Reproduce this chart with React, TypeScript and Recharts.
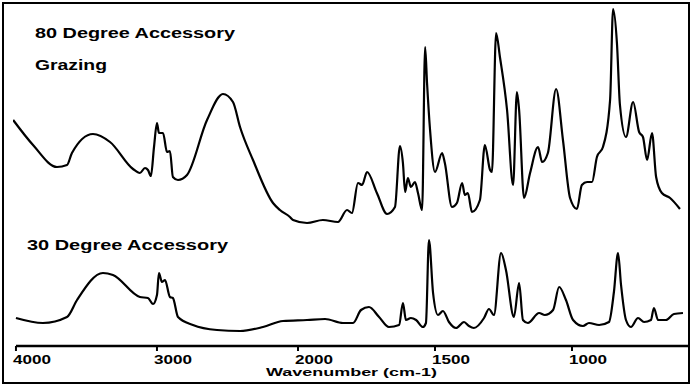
import React from 'react';
import { LineChart, Line, XAxis, YAxis, ReferenceLine } from 'recharts';

// ---- data (wavenumber in cm-1, absorbance in arbitrary units) ----
const GRAZING_WAVENUMBER = [
  4020, 3879, 3709, 3638, 3603, 3454, 3333, 3170, 3121, 3085, 3064, 3043, 3021, 3000, 2986, 2957,
  2929, 2908, 2887, 2851, 2787, 2645, 2532, 2461, 2411, 2319, 2177, 2128, 2057, 2035, 1967, 1909,
  1854, 1821, 1803, 1781, 1766, 1748, 1712, 1675, 1646, 1628, 1617, 1609, 1599, 1588, 1573, 1562,
  1547, 1536, 1529, 1518, 1500, 1474, 1464, 1438, 1420, 1401, 1391, 1380, 1365, 1336, 1318, 1299,
  1292, 1277, 1263, 1237, 1215, 1201, 1193, 1175, 1153, 1124, 1109, 1088, 1058, 1033, 1007, 982,
  964, 945, 927, 909, 887, 861, 850, 836, 825, 803, 777, 755, 741, 726, 708, 693, 672, 642, 606,
];
const GRAZING_ABSORBANCE = [
  226, 201, 179, 181, 193, 212, 204, 177, 173, 178, 176, 170, 199, 223, 213, 213,
  194, 195, 169, 166, 171, 226, 252, 244, 219, 186, 143, 136, 129, 126, 123, 126,
  124, 136, 133, 163, 161, 174, 153, 132, 139, 200, 183, 154, 168, 159, 164, 153,
  136, 299, 263, 216, 174, 193, 183, 139, 143, 163, 151, 153, 134, 146, 201, 176,
  174, 313, 289, 236, 161, 254, 236, 148, 173, 199, 184, 193, 257, 206, 148, 137,
  161, 164, 164, 189, 199, 246, 337, 303, 241, 209, 244, 214, 209, 186, 213, 169, 153, 148, 137,
];

const ACC30_WAVENUMBER = [
  4000, 3809, 3638, 3567, 3383, 3312, 3121, 3064, 3028, 3000, 2986, 2965, 2943, 2908, 2887, 2851,
  2745, 2574, 2411, 2248, 2106, 1967, 1901, 1836, 1799, 1770, 1741, 1704, 1668, 1631, 1617, 1606,
  1588, 1569, 1544, 1533, 1522, 1507, 1489, 1471, 1449, 1423, 1394, 1376, 1358, 1321, 1303, 1285,
  1259, 1241, 1212, 1193, 1179, 1161, 1120, 1099, 1069, 1047, 1022, 996, 960, 938, 901, 865,
  847, 832, 821, 803, 785, 759, 737, 712, 701, 686, 657, 628, 595,
];
const ACC30_ABSORBANCE = [
  28, 23, 29, 46, 73, 71, 49, 48, 42, 51, 73, 64, 66, 49, 48, 29,
  21, 16, 15, 19, 25, 26, 27, 23, 23, 36, 39, 29, 19, 21, 43, 26,
  28, 26, 19, 23, 106, 53, 31, 35, 24, 18, 24, 20, 18, 28, 37, 31,
  93, 76, 29, 63, 26, 23, 33, 31, 36, 59, 46, 26, 20, 23, 21, 24,
  54, 93, 61, 26, 19, 28, 24, 26, 38, 26, 26, 32, 33,
];

const TICK_WAVENUMBERS = [4000, 3000, 2000, 1500, 1000];
const X_LEFT = 4021;
const X_RIGHT = 573;
const Y_MAX = 343;

const TITLE_TOP = '80 Degree Accessory';
const TITLE_TOP_2 = 'Grazing';
const TITLE_BOTTOM = '30 Degree Accessory';
const X_TITLE = 'Wavenumber (cm-1)';

// ---- axis with a scale change at 2000 cm-1 ----
const BREAK = 2000;
const EXPAND = 1.9433;
const pos = (w: number) => (w >= BREAK ? 4000 - w : 4000 - BREAK + (BREAK - w) * EXPAND);
const inv = (u: number) => (u <= 4000 - BREAK ? 4000 - u : BREAK - (u - (4000 - BREAK)) / EXPAND);

const grazingData = GRAZING_WAVENUMBER.map((w, i) => ({ u: pos(w), a: GRAZING_ABSORBANCE[i] }));
const acc30Data = ACC30_WAVENUMBER.map((w, i) => ({ u: pos(w), a: ACC30_ABSORBANCE[i] }));

const FONT = '"Liberation Sans", Arial, Helvetica, sans-serif';
const CHART_H = 388;
const AXIS_H = 42;
const AXIS_Y = CHART_H - AXIS_H; // 346

const Tick = (props: any) => {
  const { x, payload } = props;
  const label = String(Math.round(inv(payload.value)));
  return (
    <text
      x={x - 3}
      y={AXIS_Y + 18}
      fontFamily={FONT}
      fontWeight="bold"
      fontSize={12}
      textLength={38}
      lengthAdjust="spacingAndGlyphs"
      fill="#000"
    >
      {label}
    </text>
  );
};

const AxisTitle = () => (
  <text
    x={266}
    y={AXIS_Y + 30}
    fontFamily={FONT}
    fontWeight="bold"
    fontSize={10.5}
    textLength={171}
    lengthAdjust="spacingAndGlyphs"
    fill="#000"
  >
    {X_TITLE}
  </text>
);

const titleStyle = {
  fontFamily: FONT,
  fontWeight: 'bold' as const,
  fontSize: 14,
  fill: '#000',
};

export default function App() {
  return (
    <div style={{ position: 'absolute', left: 0, top: 0, width: 692, height: 388, background: '#fff' }}>
      <div
        style={{
          position: 'absolute',
          left: 2,
          top: 2,
          width: 688,
          height: 382,
          boxSizing: 'border-box',
          border: '2px solid #000',
        }}
      />
      <div style={{ position: 'absolute', left: 0, top: 0 }}>
        <LineChart width={692} height={CHART_H} margin={{ top: 3, right: 3, bottom: 0, left: 13 }}>
          <XAxis
            dataKey="u"
            type="number"
            domain={[pos(X_LEFT), pos(X_RIGHT)]}
            allowDataOverflow
            ticks={TICK_WAVENUMBERS.map(pos)}
            tick={<Tick />}
            tickSize={5}
            tickLine={{ stroke: '#000', strokeWidth: 2 }}
            axisLine={false}
            height={AXIS_H}
            interval={0}
            label={<AxisTitle />}
          />
          <YAxis type="number" domain={[0, Y_MAX]} hide width={0} allowDataOverflow />
          <ReferenceLine
            segment={[
              { x: pos(4000), y: 0 },
              { x: pos(X_RIGHT), y: 0 },
            ]}
            stroke="#000"
            strokeWidth={2.5}
            ifOverflow="visible"
          />
          <Line
            data={grazingData}
            dataKey="a"
            type="monotone"
            stroke="#000"
            strokeWidth={2.2}
            dot={false}
            isAnimationActive={false}
          />
          <Line
            data={acc30Data}
            dataKey="a"
            type="monotone"
            stroke="#000"
            strokeWidth={2.2}
            dot={false}
            isAnimationActive={false}
          />
        </LineChart>
      </div>
      <svg width={692} height={388} style={{ position: 'absolute', left: 0, top: 0, pointerEvents: 'none' }}>
        <text x={35} y={38} textLength={200} lengthAdjust="spacingAndGlyphs" {...titleStyle}>
          {TITLE_TOP}
        </text>
        <text x={35} y={70} textLength={72} lengthAdjust="spacingAndGlyphs" {...titleStyle}>
          {TITLE_TOP_2}
        </text>
        <text x={27} y={250} textLength={201} lengthAdjust="spacingAndGlyphs" {...titleStyle}>
          {TITLE_BOTTOM}
        </text>
      </svg>
    </div>
  );
}
